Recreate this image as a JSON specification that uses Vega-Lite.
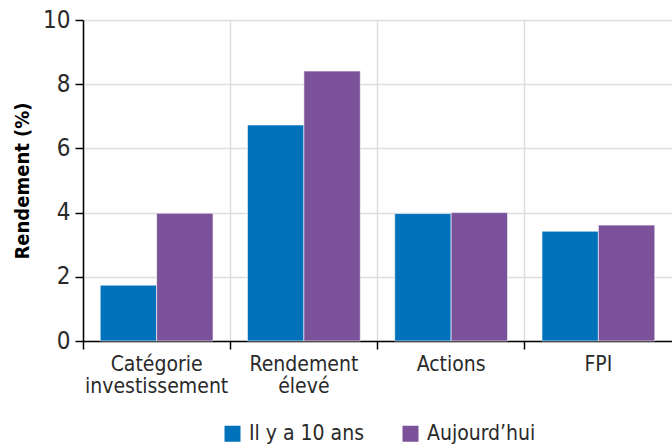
{
  "$schema": "https://vega.github.io/schema/vega-lite/v6.json",
  "autosize": "none",
  "padding": {"left": 83, "top": 20, "right": 0, "bottom": 103},
  "width": 589,
  "height": 321,
  "background": "white",
  "config": {
    "font": "DejaVu Sans Condensed, Liberation Sans Narrow, Roboto",
    "view": {"stroke": null}
  },
  "data": {
    "values": [
      {"cat": "Catégorie investissement", "serie": "Il y a 10 ans", "val": 1.74},
      {"cat": "Catégorie investissement", "serie": "Aujourd’hui", "val": 3.98},
      {"cat": "Rendement élevé", "serie": "Il y a 10 ans", "val": 6.73},
      {"cat": "Rendement élevé", "serie": "Aujourd’hui", "val": 8.41},
      {"cat": "Actions", "serie": "Il y a 10 ans", "val": 3.97},
      {"cat": "Actions", "serie": "Aujourd’hui", "val": 4.0},
      {"cat": "FPI", "serie": "Il y a 10 ans", "val": 3.42},
      {"cat": "FPI", "serie": "Aujourd’hui", "val": 3.61}
    ]
  },
  "mark": {"type": "bar", "stroke": "#ffffff", "strokeOpacity": 0.6, "strokeWidth": 1},
  "encoding": {
    "x": {
      "field": "cat", "type": "nominal", "sort": null,
      "scale": {"paddingInner": 0, "paddingOuter": 0},
      "axis": {
        "title": null, "bandPosition": 0, "labelAngle": 0,
        "labelExpr": "split(datum.label, ' ')",
        "labelFontSize": 21, "labelColor": "#2a2a2a", "labelLineHeight": 22,
        "labelPadding": 4,
        "domainColor": "#000000", "domainWidth": 1.5,
        "tickColor": "#000000", "tickSize": 8, "tickWidth": 1.5,
        "grid": true, "gridColor": "#dddddd", "gridWidth": 1.5
      }
    },
    "xOffset": {
      "field": "serie", "type": "nominal",
      "sort": ["Il y a 10 ans", "Aujourd’hui"],
      "scale": {"paddingInner": 0, "paddingOuter": 0.305}
    },
    "y": {
      "field": "val", "type": "quantitative",
      "scale": {"domain": [0, 10]},
      "axis": {
        "title": "Rendement  (%)", "titleFontSize": 20, "titleFontWeight": "bold",
        "titleColor": "#000000", "titlePadding": 10,
        "values": [0, 2, 4, 6, 8, 10],
        "labelFontSize": 24, "labelColor": "#2a2a2a", "labelPadding": 5,
        "domainColor": "#000000", "domainWidth": 1.5,
        "tickColor": "#000000", "tickSize": 8, "tickWidth": 1.5,
        "grid": true, "gridColor": "#dddddd", "gridWidth": 1.5
      }
    },
    "color": {
      "field": "serie", "type": "nominal",
      "sort": ["Il y a 10 ans", "Aujourd’hui"],
      "scale": {"domain": ["Il y a 10 ans", "Aujourd’hui"], "range": ["#0072bc", "#7b5299"]},
      "legend": {
        "title": null, "orient": "none", "direction": "horizontal",
        "legendX": 139, "legendY": 403,
        "symbolType": "square", "symbolSize": 256, "symbolStrokeWidth": 0,
        "labelFontSize": 21, "labelColor": "#2a2a2a", "columnPadding": 36,
        "labelOffset": 6
      }
    }
  }
}
